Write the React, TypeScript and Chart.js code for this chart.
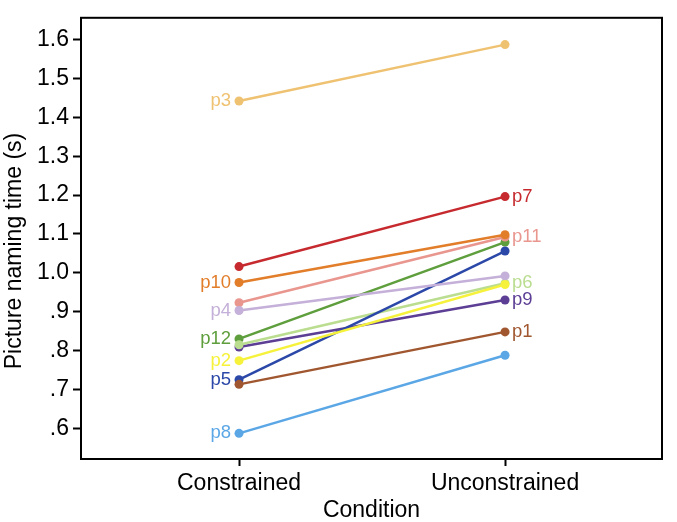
import React, { useEffect, useRef } from 'react';
import { Chart, registerables } from 'chart.js';

Chart.register(...registerables);

const categories = ['Constrained', 'Unconstrained'];
const participants = ['p1', 'p2', 'p3', 'p4', 'p5', 'p6', 'p7', 'p8', 'p9', 'p10', 'p11', 'p12'];
const constrained = [0.713, 0.774, 1.442, 0.903, 0.725, 0.815, 1.016, 0.587, 0.809, 0.975, 0.923, 0.83];
const unconstrained = [0.848, 0.97, 1.587, 0.992, 1.056, 0.973, 1.196, 0.788, 0.93, 1.098, 1.092, 1.079];
const colors = ['#A0572F', '#F6F23C', '#EFC272', '#C4B0D8', '#2B48A8', '#BADD90', '#C62A2E', '#5BA7E6', '#5C3E95', '#E27D2A', '#E9968F', '#5E9E3C'];
const labelSides = ['right', 'left', 'left', 'left', 'left', 'right', 'right', 'left', 'right', 'left', 'right', 'left'];
const yTicks = [0.6, 0.7, 0.8, 0.9, 1.0, 1.1, 1.2, 1.3, 1.4, 1.5, 1.6];
const yTickLabels = ['.6', '.7', '.8', '.9', '1.0', '1.1', '1.2', '1.3', '1.4', '1.5', '1.6'];
const xTicks = [0, 1];

const FONT = "'Liberation Sans', Arial, sans-serif";

const labelPlugin = {
  id: 'pLabels',
  afterDatasetsDraw(chart: any) {
    const ctx = chart.ctx;
    ctx.save();
    ctx.font = `18.5px ${FONT}`;
    ctx.textBaseline = 'middle';
    chart.data.datasets.forEach((ds: any, i: number) => {
      const meta = chart.getDatasetMeta(i);
      const side = labelSides[i];
      ctx.fillStyle = colors[i];
      if (side === 'left') {
        const pt = meta.data[0];
        ctx.textAlign = 'right';
        ctx.fillText(ds.label, pt.x - 8, pt.y);
      } else if (side === 'right') {
        const pt = meta.data[1];
        ctx.textAlign = 'left';
        ctx.fillText(ds.label, pt.x + 7, pt.y);
      }
    });
    ctx.restore();
  },
};

const framePlugin = {
  id: 'frame',
  afterDraw(chart: any) {
    const { ctx, chartArea } = chart;
    ctx.save();
    ctx.strokeStyle = '#000';
    ctx.lineWidth = 2;
    ctx.strokeRect(chartArea.left, chartArea.top, chartArea.right - chartArea.left, chartArea.bottom - chartArea.top);
    ctx.translate(15, 251);
    ctx.rotate(-Math.PI / 2);
    ctx.fillStyle = '#000';
    ctx.font = `23px ${FONT}`;
    ctx.textAlign = 'center';
    ctx.textBaseline = 'middle';
    ctx.fillText('Picture naming time (s)', 0, 0);
    ctx.restore();
  },
};

export default function App() {
  const ref = useRef<HTMLCanvasElement>(null);
  useEffect(() => {
    document.body.style.margin = '0';
    const datasets = participants.map((p, i) => ({
      label: p,
      data: [
        { x: 0, y: constrained[i] },
        { x: 1, y: unconstrained[i] },
      ],
      showLine: true,
      borderColor: colors[i],
      backgroundColor: colors[i],
      borderWidth: 2.5,
      pointRadius: 4.5,
      pointBorderWidth: 0,
    }));
    const chart = new Chart(ref.current as HTMLCanvasElement, {
      type: 'scatter',
      data: { datasets },
      plugins: [labelPlugin, framePlugin],
      options: {
        animation: false,
        responsive: false,
        layout: { padding: { top: 10, right: 15, left: 0, bottom: 0 } },
        plugins: { legend: { display: false }, tooltip: { enabled: false } },
        scales: {
          x: {
            type: 'linear',
            min: -0.594,
            max: 1.59,
            afterBuildTicks: (s: any) => {
              s.ticks = xTicks.map((v) => ({ value: v }));
            },
            afterFit: (s: any) => {
              s.height = 63;
            },
            ticks: {
              callback: (v: any, idx: number) => categories[idx],
              color: '#000',
              font: { family: FONT, size: 23 },
              padding: 4,
              maxRotation: 0,
              autoSkip: false,
            },
            grid: { drawOnChartArea: false, drawTicks: true, tickLength: 7, tickColor: '#000', tickWidth: 2 },
            border: { display: false },
            title: {
              display: true,
              text: 'Condition',
              color: '#000',
              font: { family: FONT, size: 23, lineHeight: 1 },
              padding: { top: 0, bottom: 0 },
            },
          },
          y: {
            type: 'linear',
            min: 0.521,
            max: 1.656,
            afterBuildTicks: (s: any) => {
              s.ticks = yTicks.map((v) => ({ value: v }));
            },
            afterFit: (s: any) => {
              s.width = 81;
            },
            ticks: {
              callback: (v: any, idx: number) => yTickLabels[idx],
              color: '#000',
              font: { family: FONT, size: 23 },
              padding: 4,
              autoSkip: false,
            },
            grid: { drawOnChartArea: false, drawTicks: true, tickLength: 8, tickColor: '#000', tickWidth: 2 },
            border: { display: false },
            title: { display: false },
          },
        },
      },
    } as any);
    return () => chart.destroy();
  }, []);
  return (
    <div style={{ width: 677, height: 522 }}>
      <canvas ref={ref} width={677} height={522} style={{ width: 677, height: 522, display: 'block' }} />
    </div>
  );
}
